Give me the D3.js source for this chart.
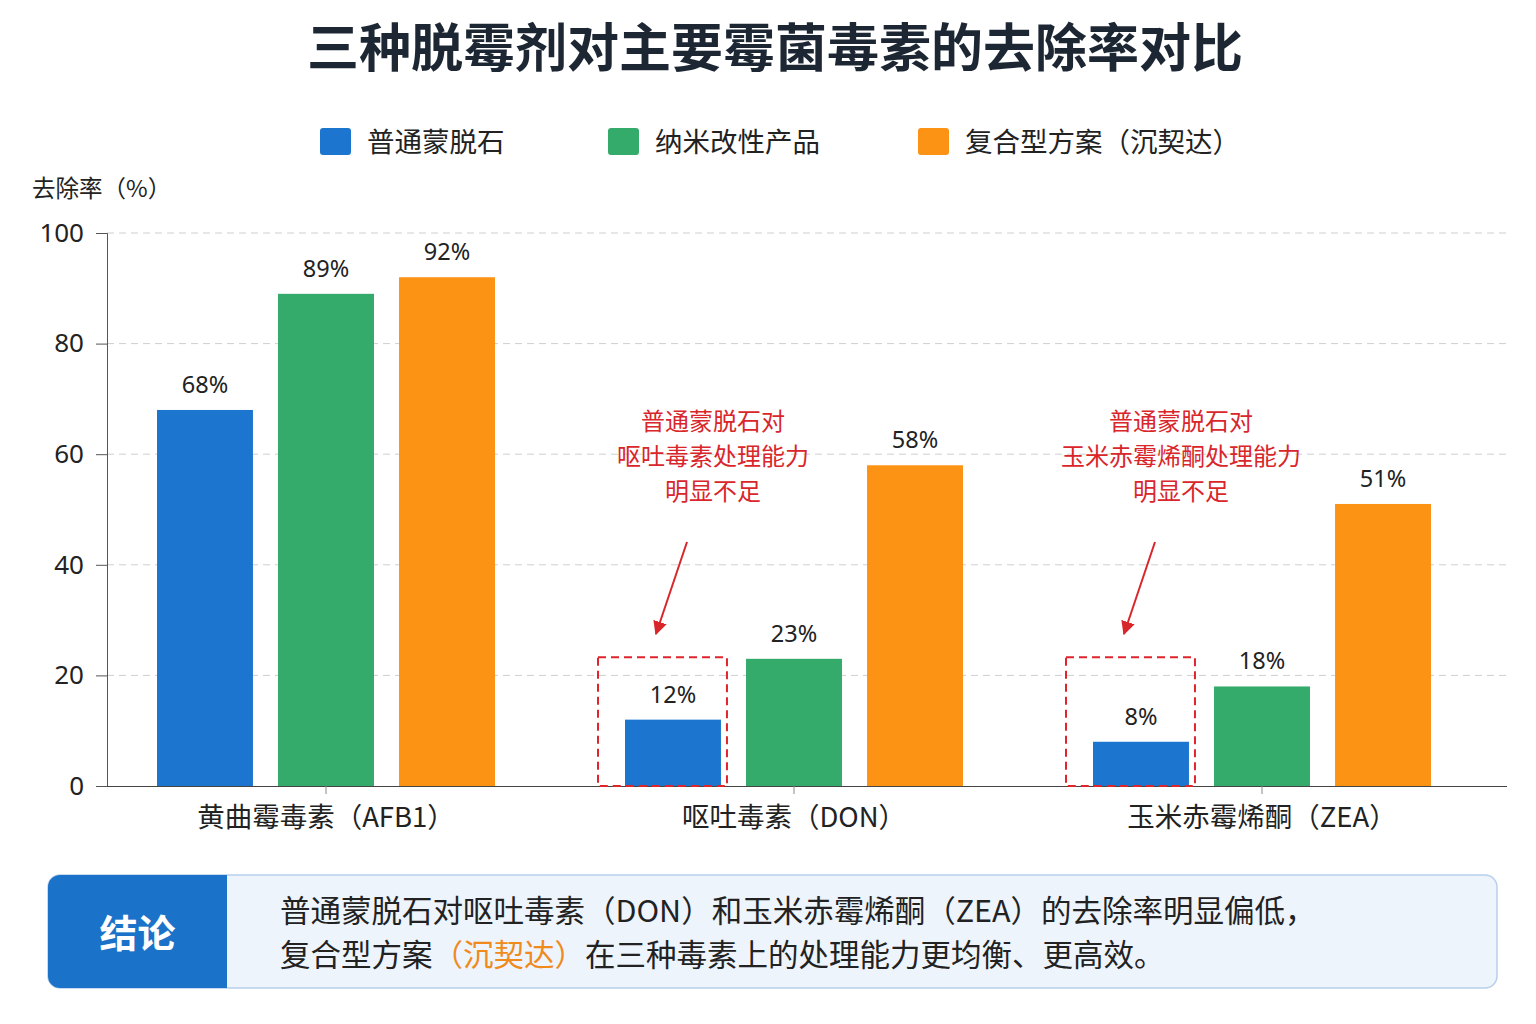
<!DOCTYPE html>
<html>
<head>
<meta charset="utf-8">
<script src="https://cdn.jsdelivr.net/npm/d3@7"></script>
<style>
  html, body { margin: 0; padding: 0; background: #fff; }
  svg { display: block; font-family: "Noto Sans CJK SC", "Noto Sans", sans-serif; }
</style>
</head>
<body>
<div class="chart_view"></div>
<script>
// data
var categories = ["黄曲霉毒素（AFB1）", "呕吐毒素（DON）", "玉米赤霉烯酮（ZEA）"];
var series = ["普通蒙脱石", "纳米改性产品", "复合型方案（沉契达）"];
var values = [
  [68, 12, 8],   // 普通蒙脱石
  [89, 23, 18],  // 纳米改性产品
  [92, 58, 51]   // 复合型方案
];
var yTicks = [0, 20, 40, 60, 80, 100];
var notes = [
  { cat: 1, lines: ["普通蒙脱石对", "呕吐毒素处理能力", "明显不足"] },
  { cat: 2, lines: ["普通蒙脱石对", "玉米赤霉烯酮处理能力", "明显不足"] }
];
var conclusion = [
  [{ t: "普通蒙脱石对呕吐毒素（DON）和玉米赤霉烯酮（ZEA）的去除率明显偏低，", hl: false }],
  [{ t: "复合型方案", hl: false }, { t: "（沉契达）", hl: true }, { t: "在三种毒素上的处理能力更均衡、更高效。", hl: false }]
];
var colors = ["#1c76cf", "#34aa6b", "#fc9315"];

var width = 1536, height = 1024;
var svg = d3.select(".chart_view").append("svg")
  .attr("width", width).attr("height", height);

// title
svg.append("text")
  .attr("x", 775).attr("y", 67)
  .attr("text-anchor", "middle")
  .style("font-size", "52px").style("font-weight", "700")
  .style("fill", "#1d2633")
  .text("三种脱霉剂对主要霉菌毒素的去除率对比");

// legend
var legendX = [320, 608, 918];
var legend = svg.selectAll(".legend").data(series).enter().append("g")
  .attr("class", "legend")
  .attr("transform", function (d, i) { return "translate(" + legendX[i] + ",128)"; });
legend.append("rect")
  .attr("width", 31).attr("height", 27).attr("rx", 3)
  .style("fill", function (d, i) { return colors[i]; });
legend.append("text")
  .attr("x", 47).attr("y", 24)
  .style("font-size", "27.5px").style("fill", "#222")
  .text(function (d) { return d; });

// y axis label
svg.append("text")
  .attr("x", 32).attr("y", 197)
  .style("font-size", "23.5px").style("fill", "#222")
  .text("去除率（%）");

var plotL = 107, plotR = 1507, plotT = 233, plotB = 786;
var y = d3.scaleLinear().domain([0, 100]).range([plotB, plotT]);
var x0 = d3.scaleBand().domain(categories).range([92, 1496]).padding(0);
var groupW = 338;
var x1 = d3.scaleBand().domain(d3.range(series.length))
  .range([(x0.bandwidth() - groupW) / 2, (x0.bandwidth() + groupW) / 2])
  .paddingInner(0.207).paddingOuter(0);

// grid
svg.append("g").selectAll("line").data(yTicks.filter(function (d) { return d > 0; }))
  .enter().append("line")
  .attr("x1", plotL).attr("x2", plotR)
  .attr("y1", function (d) { return y(d); }).attr("y2", function (d) { return y(d); })
  .style("stroke", "#cfcfcf").style("stroke-width", 1).style("stroke-dasharray", "7,5");

// y axis
var yAxis = svg.append("g")
  .attr("transform", "translate(" + plotL + ",0)")
  .call(d3.axisLeft(y).tickValues(yTicks).tickSize(11).tickPadding(12));
yAxis.select(".domain").style("stroke", "#555");
yAxis.selectAll(".tick line").style("stroke", "#555");
yAxis.selectAll(".tick text")
  .style("font-size", "26px").style("fill", "#222")
  .style("font-family", "'Noto Sans', sans-serif");

// x axis
var xAxis = svg.append("g")
  .attr("transform", "translate(0," + plotB + ")")
  .call(d3.axisBottom(x0).tickSize(8).tickPadding(13).tickSizeOuter(0));
xAxis.select(".domain").attr("d", "M" + plotL + ",0.5H" + plotR).style("stroke", "#444");
xAxis.selectAll(".tick line").style("stroke", "#888");
xAxis.selectAll(".tick text")
  .style("font-size", "27.5px").style("fill", "#222")
  .style("font-family", "'Noto Sans CJK SC', sans-serif");

// bars
var groups = svg.selectAll(".group").data(categories).enter().append("g")
  .attr("class", "group")
  .attr("transform", function (d) { return "translate(" + x0(d) + ",0)"; });
groups.selectAll("rect").data(function (d, ci) {
  return series.map(function (s, si) { return { si: si, v: values[si][ci] }; });
}).enter().append("rect")
  .attr("x", function (d) { return x1(d.si); })
  .attr("width", x1.bandwidth())
  .attr("y", function (d) { return y(d.v); })
  .attr("height", function (d) { return plotB - y(d.v); })
  .style("fill", function (d) { return colors[d.si]; });
groups.selectAll(".val").data(function (d, ci) {
  return series.map(function (s, si) { return { si: si, v: values[si][ci] }; });
}).enter().append("text")
  .attr("class", "val")
  .attr("x", function (d) { return x1(d.si) + x1.bandwidth() / 2; })
  .attr("y", function (d) { return y(d.v) - 17; })
  .attr("text-anchor", "middle")
  .style("font-size", "23.5px").style("fill", "#222")
  .style("font-family", "'Noto Sans', sans-serif")
  .text(function (d) { return d.v + "%"; });

// annotations
svg.append("defs").append("marker")
  .attr("id", "arrow").attr("viewBox", "0 0 10 10")
  .attr("refX", 9).attr("refY", 5)
  .attr("markerWidth", 7).attr("markerHeight", 7)
  .attr("orient", "auto")
  .append("path").attr("d", "M0,0L10,5L0,10z").style("fill", "#d9262b");

notes.forEach(function (n) {
  var bx = x0(categories[n.cat]) + x1(0);
  var bw = x1.bandwidth();
  var cx = bx + bw / 2;
  svg.append("rect")
    .attr("x", bx - 27).attr("y", y(23.3))
    .attr("width", bw + 33).attr("height", plotB - y(23.3))
    .style("fill", "none").style("stroke", "#e0242b")
    .style("stroke-width", 2).style("stroke-dasharray", "8,5");
  svg.append("line")
    .attr("x1", cx + 14).attr("y1", 542)
    .attr("x2", cx - 17).attr("y2", 634)
    .style("stroke", "#d9262b").style("stroke-width", 2)
    .attr("marker-end", "url(#arrow)");
  svg.append("text")
    .attr("text-anchor", "middle")
    .style("font-size", "24px").style("fill", "#d9262b")
    .selectAll("tspan").data(n.lines).enter().append("tspan")
    .attr("x", cx + 40)
    .attr("y", function (d, i) { return 430 + i * 35; })
    .text(function (d) { return d; });
});

// conclusion box
var bxL = 48, bxT = 875, bxW = 1449, bxH = 113, r = 12, tagW = 179;
svg.append("rect")
  .attr("x", bxL).attr("y", bxT).attr("width", bxW).attr("height", bxH).attr("rx", r)
  .style("fill", "#eef4fc").style("stroke", "#b7cfec").style("stroke-width", 1.5);
svg.append("path")
  .attr("d", "M" + (bxL + tagW) + "," + bxT + "H" + (bxL + r) +
    "A" + r + "," + r + " 0 0 0 " + bxL + "," + (bxT + r) +
    "V" + (bxT + bxH - r) +
    "A" + r + "," + r + " 0 0 0 " + (bxL + r) + "," + (bxT + bxH) +
    "H" + (bxL + tagW) + "Z")
  .style("fill", "#1b72c9");
svg.append("text")
  .attr("x", bxL + tagW / 2).attr("y", bxT + 72)
  .attr("text-anchor", "middle")
  .style("font-size", "38px").style("font-weight", "700").style("fill", "#fff")
  .text("结论");
conclusion.forEach(function (line, i) {
  var t = svg.append("text")
    .attr("x", 280).attr("y", 922 + i * 44)
    .style("font-size", "30.5px").style("fill", "#222");
  t.selectAll("tspan").data(line).enter().append("tspan")
    .style("fill", function (d) { return d.hl ? "#f08a1c" : "#222"; })
    .text(function (d) { return d.t; });
});
</script>
</body>
</html>
